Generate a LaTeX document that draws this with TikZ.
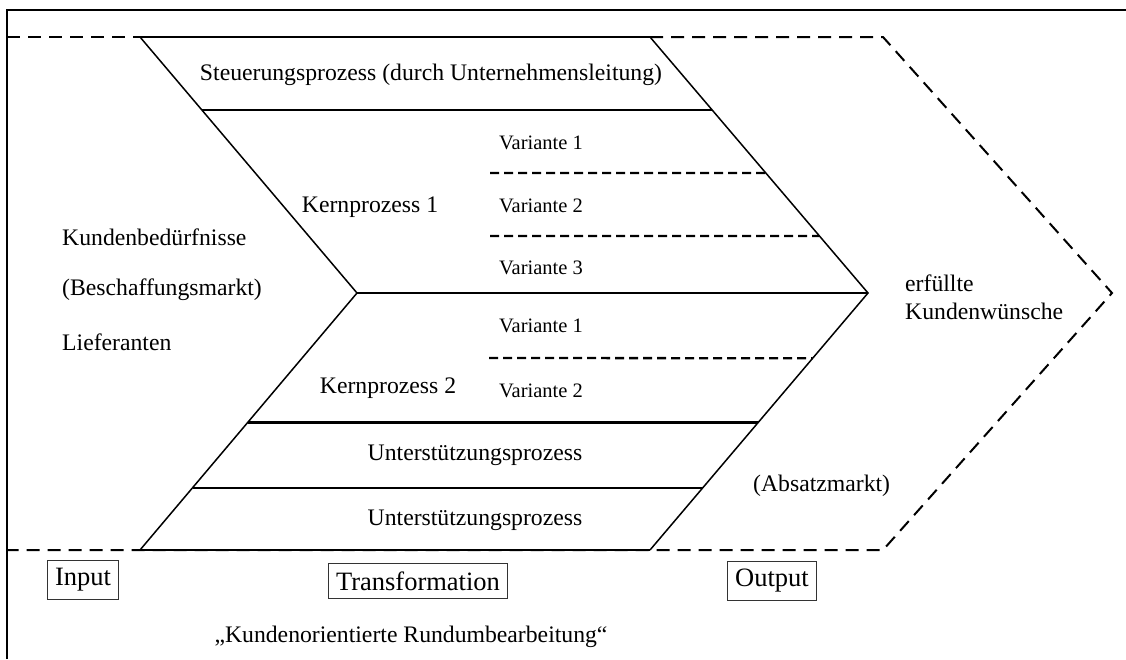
\documentclass[tikz,border=0pt]{standalone}
\usepackage{fontspec}
\setmainfont{Liberation Serif}
\usetikzlibrary{calc}
\begin{document}
\begin{tikzpicture}[x=1pt,y=-1pt,
  frame/.style={line width=2.4pt},
  edge/.style={line width=1.5pt},
  band/.style={line width=2.4pt},
  outer/.style={line width=2pt,dash pattern=on 13pt off 8pt},
  variant/.style={line width=2.3pt,dash pattern=on 9pt off 5pt},
  lbl/.style={inner sep=0pt,font=\fontsize{23.7}{28}\selectfont},
  vlbl/.style={inner sep=0pt,font=\fontsize{20.5}{24}\selectfont},
  stage/.style={draw=black!80,line width=1pt,inner xsep=8pt,inner ysep=8pt,font=\fontsize{26.5}{30}\selectfont}]
\useasboundingbox (0,0) rectangle (1126,659);
\fill[white] (0,0) rectangle (1126,659);

% outer frame (top and left edges)
\draw[frame] (7,659) -- (7,10) -- (1126,10);

% corner points of the process chevron
\coordinate (LT) at (140,37);
\coordinate (LA) at (357,293);
\coordinate (LB) at (140,550);
\coordinate (RT) at (650,37);
\coordinate (RA) at (868,293);
\coordinate (RB) at (650,550);
% corner points of the dashed outer arrow
\coordinate (DT) at (883,37);
\coordinate (DA) at (1112,293);
\coordinate (DB) at (883,550);
\coordinate (FT) at (7,37);
\coordinate (FB) at (7,550);

% dashed outer arrow
\draw[outer] (FT) -- (LT);
\draw[outer] (RT) -- (DT) -- (DA) -- (DB) -- (FB);

% chevron outline
\draw[edge] (LT) -- (LA) -- (LB);
\draw[edge] (RT) -- (RA) -- (RB);
\draw[band] (LT) -- (RT);
\draw[band] (LB) -- (RB);

% band separators
\draw[band] ($(LT)!0.2852!(LA)$) -- ($(RT)!0.2852!(RA)$);
\draw[band] (LA) -- (RA);
\draw[band] ($(LA)!0.5039!(LB)$) -- ($(RA)!0.5039!(RB)$);
\draw[band] ($(LA)!0.7578!(LB)$) -- ($(RA)!0.7578!(RB)$);

% variant separators
\coordinate (V1a) at (490,173);
\coordinate (V2a) at (490,236);
\coordinate (V3a) at (489,358);
\draw[variant] (V1a) -- ($(RT)!0.5313!(RA)$);
\draw[variant] (V2a) -- ($(RT)!0.7773!(RA)$);
\draw[variant] (V3a) -- ($(RA)!0.2539!(RB)$);

% process labels
\node[lbl] (steu) at (431,75) {Steuerungsprozess (durch Unternehmensleitung)};
\node[lbl] (kp1) at (370,207) {Kernprozess 1};
\node[lbl] (kp2) at (388,388) {Kernprozess 2};
\node[vlbl] (v11) at (541,143) {Variante 1};
\node[vlbl] (v12) at (541,206) {Variante 2};
\node[vlbl] (v13) at (541,268) {Variante 3};
\node[vlbl] (v21) at (541,326) {Variante 1};
\node[vlbl] (v22) at (541,391) {Variante 2};
\node[lbl] (up1) at (475,455) {Unterstützungsprozess};
\node[lbl] (up2) at (475,520) {Unterstützungsprozess};

% input side
\node[lbl,anchor=west] (kb) at (62,237) {Kundenbedürfnisse};
\node[lbl,anchor=west] (bm) at (62,290) {(Beschaffungsmarkt)};
\node[lbl,anchor=west] (lf) at (62,342) {Lieferanten};

% output side
\node[lbl,anchor=west] (ef) at (905,283) {erfüllte};
\node[lbl,anchor=west] (kw) at (905,311) {Kundenwünsche};
\node[lbl,anchor=west] (am) at (753,486) {(Absatzmarkt)};

% stage boxes
\node[stage] (in) at (83,580) {Input};
\node[stage] (tr) at (418,581) {Transformation};
\node[stage] (out) at (772,581) {Output};

\node[lbl] (motto) at (411,637) {„Kundenorientierte Rundumbearbeitung“};
\end{tikzpicture}
\end{document}
